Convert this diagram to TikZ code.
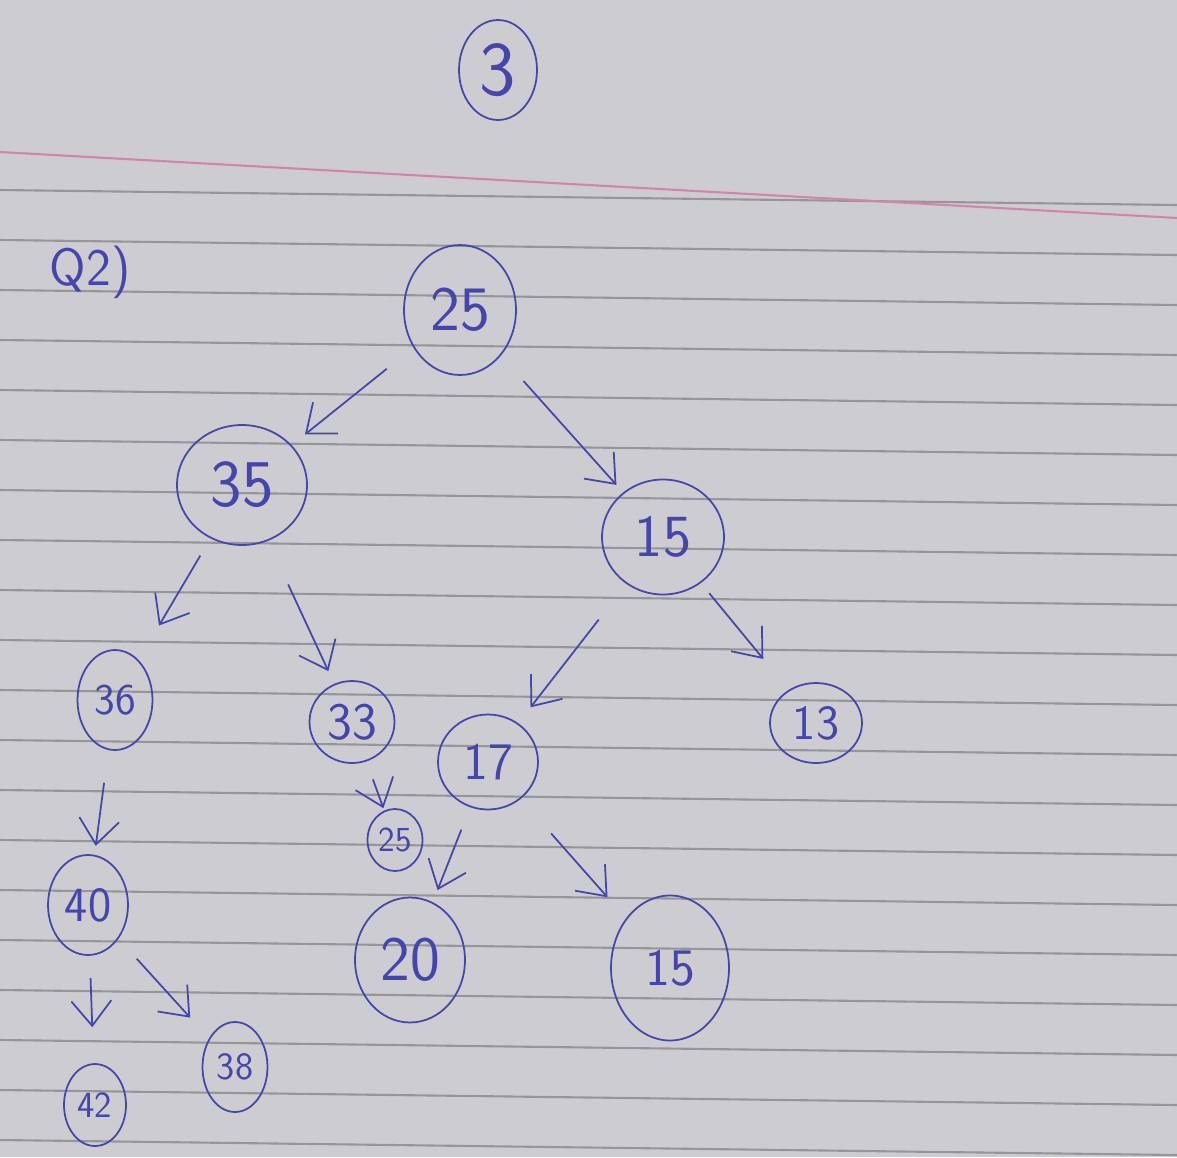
\documentclass[tikz,border=0pt]{standalone}
\usepackage{tikz}
\usetikzlibrary{arrows.meta,shapes.geometric}
\definecolor{Ink}{HTML}{4545AE}
\definecolor{Paper}{HTML}{CDCDD1}
\definecolor{Rule_Gray}{HTML}{95959A}
\definecolor{Margin_Pink}{HTML}{D384AB}

\tikzset{
  key/.style={draw=Ink, line width=1pt, ellipse, inner sep=0pt, text=Ink,
    font=\sffamily\fontsize{#1}{#1}\selectfont},
  key/.default=32,
  edge/.style={-{Straight Barb[length=5mm,width=8mm]}, Ink, line width=1pt},
}

\begin{document}
\begin{tikzpicture}[x=0.02cm, y=-0.02cm]
    % Notebook page
    \fill[Paper] (0,0) rectangle (1177,1157);
    \useasboundingbox (0,0) rectangle (1177,1157);

    % Ruled lines and margin line
    \foreach \y in {190,240,...,1140}
        \draw[Rule_Gray, line width=1.2pt] (0,\y) -- (1177,\y+15);
    \draw[Margin_Pink, line width=1.2pt] (0,152) -- (1177,218);

    % Page number and question label
    \node[key=44, minimum width=1.56cm, minimum height=2cm] (page) at (498,70) {3};
    \node[text=Ink, font=\sffamily\fontsize{30}{30}\selectfont] (ques) at (90,272) {Q2)};

    % Tree keys
    \node[key=36, minimum width=2.24cm, minimum height=2.6cm] (root) at (460,310) {25};
    \node[key=38, minimum width=2.6cm, minimum height=2.4cm] (n35) at (242,485) {35};
    \node[key=34, minimum width=2.44cm, minimum height=2.3cm] (n15) at (663,537) {15};
    \node[key=25, minimum width=1.5cm, minimum height=2cm] (n36) at (115,700) {36};
    \node[key=30, minimum width=1.7cm, minimum height=1.64cm] (n33) at (352,722) {33};
    \node[key=30, minimum width=2cm, minimum height=1.9cm] (n17) at (488,762) {17};
    \node[key=28, minimum width=1.84cm, minimum height=1.6cm] (n13) at (816,723) {13};
    \node[key=20, minimum width=1.1cm, minimum height=1.24cm] (n25) at (395,840) {25};
    \node[key=36, minimum width=2.2cm, minimum height=2.5cm] (n20) at (410,960) {20};
    \node[key=30, minimum width=2.36cm, minimum height=2.9cm] (n15b) at (670,968) {15};
    \node[key=28, minimum width=1.6cm, minimum height=2cm] (n40) at (88,905) {40};
    \node[key=21, minimum width=1.24cm, minimum height=1.64cm] (n42) at (95,1105) {42};
    \node[key=22, minimum width=1.3cm, minimum height=1.8cm] (n38) at (235,1067) {38};

    % Arrows
    \draw[edge, shorten <=0.68cm, shorten >=0.34cm] (root) -- (n35);
    \draw[edge, shorten <=0.68cm, shorten >=0.2cm] (root) -- (n15);
    \draw[edge, shorten <=0.4cm, shorten >=0.8cm] (n35) -- (n36);
    \draw[edge, shorten <=0.96cm, shorten >=0.28cm] (n35) -- (n33);
    \draw[edge, shorten <=0.9cm, shorten >=0.4cm] (n15) -- (n17);
    \draw[edge, shorten <=0.26cm, shorten >=0.8cm] (n15) -- (n13);
    \draw[edge, shorten <=0.66cm, shorten >=0.18cm] (n36) -- (n40);
    \draw[edge, shorten <=0.38cm, shorten >=0.05cm] (n33) -- (n25);
    \draw[edge, shorten <=0.48cm, shorten >=0.26cm] (n17) -- (n20);
    \draw[edge, shorten <=0.92cm, shorten >=0.56cm] (n17) -- (n15b);
    \draw[edge, shorten <=0.44cm, shorten >=0.72cm] (n40) -- (n42);
    \draw[edge, shorten <=0.54cm, shorten >=0.56cm] (n40) -- (n38);
\end{tikzpicture}
\end{document}
